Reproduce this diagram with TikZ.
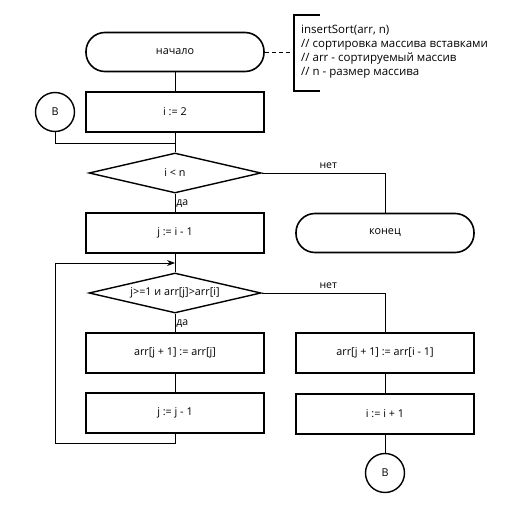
\documentclass[tikz,border=0pt]{standalone}
\usepackage{fontspec}
\setmainfont{Open Sans}
\usetikzlibrary{shapes.geometric}
\usetikzlibrary{arrows.meta}

\tikzset{
    terminal/.style={draw, line width=1.6pt, rounded corners=19pt, minimum width=178pt, minimum height=39pt},
    block/.style={draw, line width=1.6pt, minimum width=178pt, minimum height=40pt},
    decision/.style={draw, line width=1.4pt, diamond, aspect=4.3, inner sep=0pt, minimum width=172pt, minimum height=40pt},
    connector/.style={draw, line width=1.4pt, circle, minimum size=39pt, inner sep=0pt},
    flow/.style={line width=0.9pt},
    lbl/.style={inner sep=1pt, font=\fontsize{10.5}{11}\selectfont}
}

\begin{document}
\begin{tikzpicture}[x=1pt, y=-1pt, font=\fontsize{10.8}{13}\selectfont]
    \useasboundingbox (0,0) rectangle (515,508);

    % left column
    \node[terminal] (start) at (175,52) {начало};
    \node[block] (init) at (175,112) {i := 2};
    \node[connector] (B1) at (55,112) {B};
    \node[decision] (cond1) at (175,173) {i < n};
    \node[block] (jset) at (175,233) {j := i - 1};
    \node[decision] (cond2) at (175,293) {j>=1 и arr[j]>arr[i]};
    \node[block] (move) at (175,353) {arr[j + 1] := arr[j]};
    \node[block] (jdec) at (175,413) {j := j - 1};

    % right column
    \node[terminal] (finish) at (385,233) {конец};
    \node[block] (shift) at (385,353) {arr[j + 1] := arr[i - 1]};
    \node[block] (inc) at (385,414) {i := i + 1};
    \node[connector] (B2) at (385,473) {B};

    % comment
    \coordinate (note) at (294,52);
    \draw[line width=1.4pt] (320,15) -| (294,91) -- (320,91);
    \node[anchor=north west, align=left, inner sep=0pt, font=\fontsize{11.5}{14}\selectfont] (text) at (301,25)
        {insertSort(arr, n)\\// сортировка массива вставками\\// arr - сортируемый массив\\// n - размер массива};
    \draw[flow, dash pattern=on 4pt off 3pt] (start) -- (note);

    % helper points
    \coordinate (m1) at (175,143);
    \coordinate (lp1) at (175,443);
    \coordinate (lp2) at (55,263);
    \coordinate (lp3) at (175,263);

    % connections
    \draw[flow] (start) -- (init);
    \draw[flow] (init) -- (cond1);
    \draw[flow] (B1) |- (m1);
    \draw[flow] (cond1.east) -| node[lbl, pos=0.27, above=3pt] {нет} (finish.north);
    \draw[flow] (cond1) -- node[lbl, pos=0.55, right] {да} (jset);
    \draw[flow] (jset) -- (cond2);
    \draw[flow] (cond2.east) -| node[lbl, pos=0.27, above=3pt] {нет} (shift.north);
    \draw[flow] (cond2) -- node[lbl, pos=0.55, right] {да} (move);
    \draw[flow] (move) -- (jdec);
    \draw[flow, -{Stealth[length=8pt, width=6pt]}] (jdec.south) -- (lp1) -| (lp2) -- (lp3);
    \draw[flow] (shift) -- (inc);
    \draw[flow] (inc) -- (B2);
\end{tikzpicture}
\end{document}
